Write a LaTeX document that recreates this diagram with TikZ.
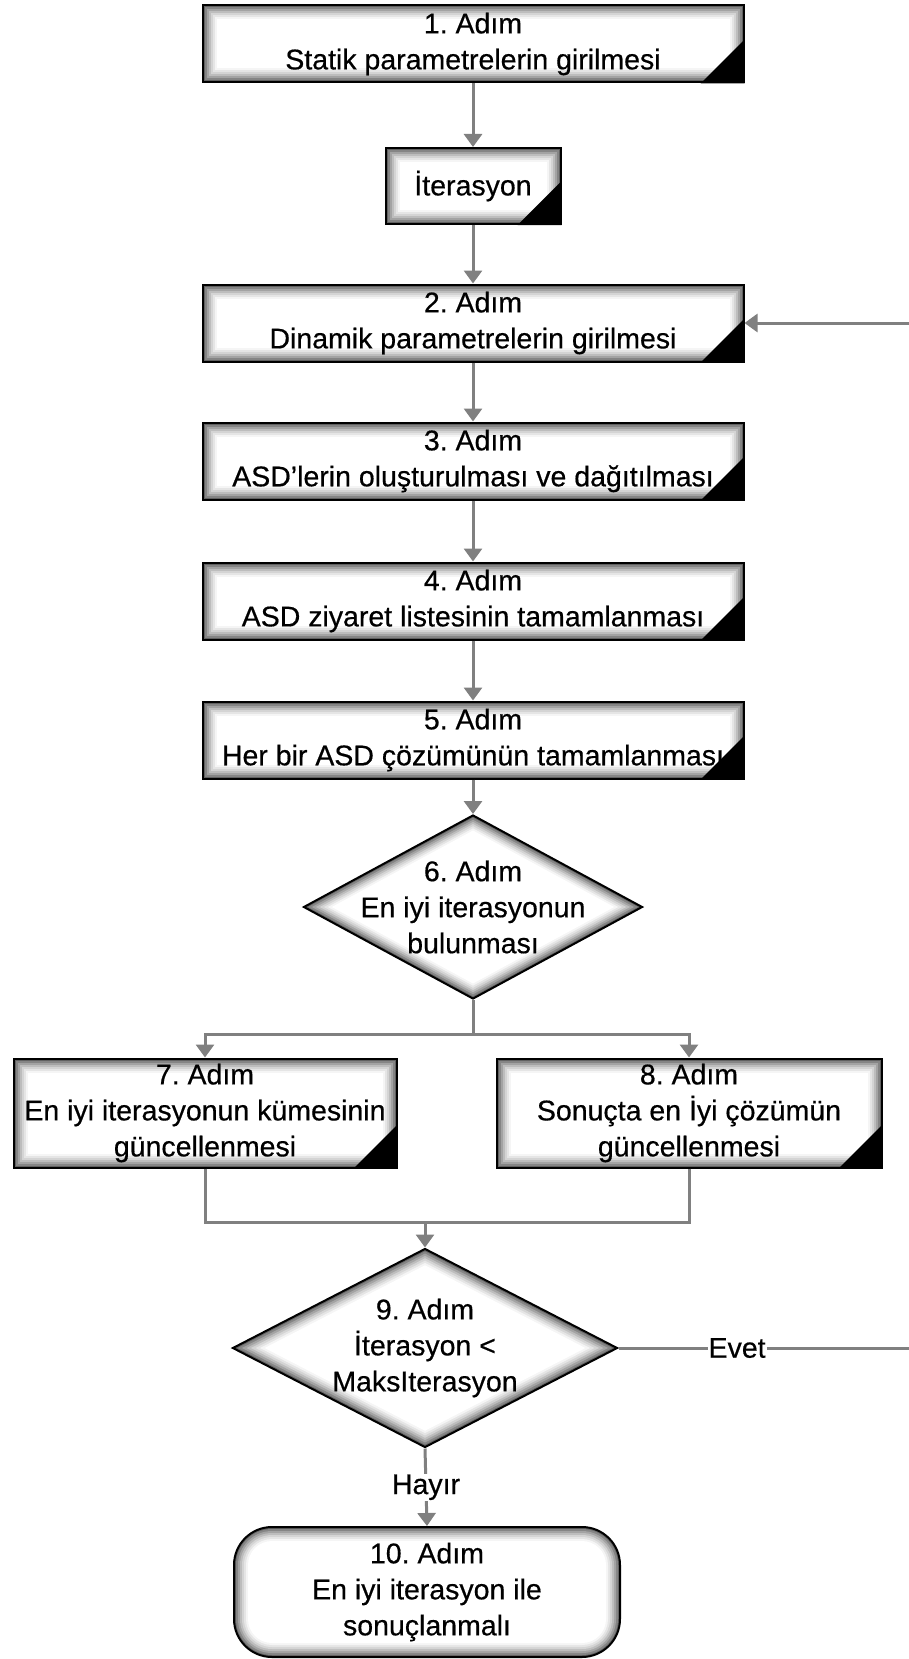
\documentclass[tikz,border=0pt]{standalone}
\usepackage{fontspec}
\setmainfont{Liberation Sans}[BoldFont=Liberation Sans, BoldFeatures={FakeBold=0.5}]
\usetikzlibrary{arrows.meta,calc,shapes.geometric}

\definecolor{linegray}{RGB}{128,128,128}

\tikzset{
  txt/.style={font=\fontsize{28.5}{36}\selectfont\frenchspacing\bfseries, align=center, text=black},
  glowbox/.style={path picture={
      \foreach \d/\c in {0/62,2/48,4/36,6/26,8/17,10/10,12/4,14/0}
        \fill[black!\c] ([shift={(\d pt,-\d pt)}]path picture bounding box.north west)
          rectangle ([shift={(-\d pt,\d pt)}]path picture bounding box.south east);
  }},
  glowdmd/.style={path picture={
      \foreach \k/\c in {1/62,0.976/48,0.953/36,0.929/26,0.906/17,0.882/10,0.859/4,0.835/0}
        \fill[black!\c] ($(path picture bounding box.center)!\k!(path picture bounding box.north)$)
          -- ($(path picture bounding box.center)!\k!(path picture bounding box.east)$)
          -- ($(path picture bounding box.center)!\k!(path picture bounding box.south)$)
          -- ($(path picture bounding box.center)!\k!(path picture bounding box.west)$) -- cycle;
  }},
  glowround/.style={path picture={
      \foreach \d/\c/\r in {0/62/38,2/48/36,4/36/34,6/26/32,8/17/30,10/10/28,12/4/26,14/0/24}
        \fill[black!\c, rounded corners=\r pt] ([shift={(\d pt,-\d pt)}]path picture bounding box.north west)
          rectangle ([shift={(-\d pt,\d pt)}]path picture bounding box.south east);
  }},
  stepbox/.style={txt, rectangle, draw=black, line width=2pt, glowbox, inner sep=2pt,
    minimum width=541pt, minimum height=77pt},
  decision/.style={diamond, draw=black, line width=2pt, glowdmd, inner sep=0pt},
  dtext/.style={txt, inner sep=0pt},
  endbox/.style={txt, rectangle, rounded corners=38pt, draw=black, line width=2pt, glowround,
    minimum width=386pt, minimum height=130pt},
  line/.style={draw=linegray, line width=3pt},
  arr/.style={line, -{Triangle[width=18pt,length=13pt]}, linegray},
  lbl/.style={txt, fill=white, inner sep=1pt}
}

\begin{document}
\begin{tikzpicture}[x=1pt,y=-1pt]
  \useasboundingbox (0,0) rectangle (909,1659);

  % steps
  \node[stepbox] (s1) at (473,44) {1. Adım\\Statik parametrelerin girilmesi};
  \node[stepbox,minimum width=175pt,minimum height=76pt] (it) at (473,186) {İterasyon};
  \node[stepbox] (s2) at (473,323) {2. Adım\\Dinamik parametrelerin girilmesi};
  \node[stepbox] (s3) at (473,461) {3. Adım\\ASD’lerin oluşturulması ve dağıtılması};
  \node[stepbox] (s4) at (473,601) {4. Adım\\ASD ziyaret listesinin tamamlanması};
  \node[stepbox] (s5) at (473,740) {5. Adım\\Her bir ASD çözümünün tamamlanması};
  \node[decision,minimum width=339pt,minimum height=184pt] (d6) at (473,907) {};
  \node[dtext] (d6t) at (d6) {6. Adım\\En iyi iterasyonun\\bulunması};
  \node[stepbox,minimum width=383pt,minimum height=109pt] (s7) at (205,1113) {7. Adım\\En iyi iterasyonun kümesinin\\güncellenmesi};
  \node[stepbox,minimum width=385pt,minimum height=109pt] (s8) at (689,1113) {8. Adım\\Sonuçta en İyi çözümün\\güncellenmesi};
  \node[decision,minimum width=385pt,minimum height=199pt] (d9) at (425,1348) {};
  \node[dtext] (d9t) at (d9) {9. Adım\\İterasyon <\\MaksIterasyon};
  \node[endbox] (s10) at (427,1592) {10. Adım\\En iyi iterasyon ile\\sonuçlanmalı};

  % connectors
  \draw[arr] (s1) -- (it);
  \draw[arr] (it) -- (s2);
  \draw[arr] (s2) -- (s3);
  \draw[arr] (s3) -- (s4);
  \draw[arr] (s4) -- (s5);
  \draw[arr] (s5) -- (d6);
  \draw[line] (d6.south) -- ++(0,34) coordinate (br);
  \draw[arr] (br) -| (s7.north);
  \draw[arr] (br) -| (s8.north);
  \coordinate (mg) at (425,1222);
  \draw[line] (s7.south) |- (mg);
  \draw[line] (s8.south) |- (mg);
  \draw[arr] (mg) -- (d9.north);
  \coordinate (lp) at (915,1348);
  \draw[arr] (d9.east) -- node[lbl,pos=0.4] (evet) {Evet} (lp) |- (s2.east);
  \draw[arr] (d9.south) -- node[lbl] (hayir) {Hayır} (s10.north);

  % folded corners
  \foreach \b in {s1,it,s2,s3,s4,s5,s7,s8}
    \fill ([yshift=44pt]\b.south east) -- (\b.south east) -- ([xshift=-44pt]\b.south east) -- cycle;
\end{tikzpicture}
\end{document}
